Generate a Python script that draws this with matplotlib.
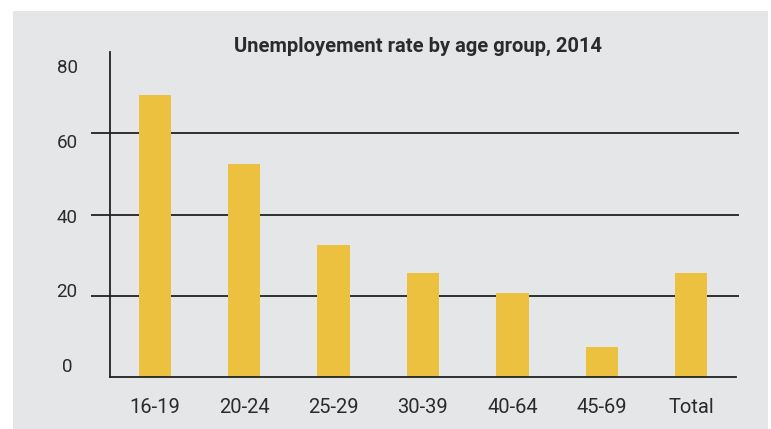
import matplotlib
matplotlib.use("Agg")
import matplotlib.pyplot as plt
from matplotlib.patches import Rectangle
import matplotlib.transforms as mtransforms

# Unemployment rate by age group, 2014
age_groups = ["16-19", "20-24", "25-29", "30-39", "40-64", "45-69", "Total"]
rates = [69.4, 52.4, 32.6, 25.6, 20.7, 7.5, 25.6]
y_ticks = [0, 20, 40, 60, 80]
grid_values = [20, 40, 60]
title = "Unemployement rate by age group, 2014"

W, H = 771, 429
BG = "#e5e6e8"
BAR = "#ebc13f"
INK = "#222222"
TXT = "#2b2b2b"

plt.rcParams["font.family"] = ["Roboto", "DejaVu Sans"]

fig = plt.figure(figsize=(W / 100, H / 100), dpi=100)
fig.patch.set_facecolor("white")

# grey panel behind the chart
fig.patches.append(Rectangle((13 / W, 0), (768 - 13) / W, 1 - 11 / H,
                             transform=fig.transFigure, facecolor=BG,
                             edgecolor="none", zorder=-5))

ax_l, ax_r, ax_t, ax_b = 110, 736, 52, 377.3
ax = fig.add_axes([ax_l / W, 1 - ax_b / H, (ax_r - ax_l) / W, (ax_b - ax_t) / H])
ax.set_facecolor("none")
ax.set_zorder(1)

x = list(range(len(age_groups)))
ax.bar(x, rates, width=0.36, color=BAR, zorder=3)
ax.set_xlim(-0.5, len(age_groups) - 0.5)
ax.set_ylim(0, 80)

# horizontal reference lines extend a little past the axes on both sides
blend = mtransforms.blended_transform_factory(ax.transAxes, ax.transData)
x0 = (91 - ax_l) / (ax_r - ax_l)
x1 = (739 - ax_l) / (ax_r - ax_l)
for v in grid_values:
    ax.plot([x0, x1], [v, v], transform=blend, color=INK, lw=1.3,
            clip_on=False, zorder=2, solid_capstyle="butt")

for side in ["top", "right"]:
    ax.spines[side].set_visible(False)
for side in ["left", "bottom"]:
    ax.spines[side].set_color(INK)
    ax.spines[side].set_linewidth(1.3)
    ax.spines[side].set_zorder(4)

ax.set_yticks([])
ax.set_xticks(x)
ax.set_xticklabels(age_groups, fontsize=14.5, color=TXT)
ax.tick_params(axis="x", length=0, pad=15)

# y labels are spread evenly down the left margin
lx = (67 - ax_l) / (ax_r - ax_l)
for v in y_ticks:
    yf = 0.031 + v / 80 * 0.92
    ax.text(lx, yf, str(v), transform=ax.transAxes, ha="center", va="center",
            fontsize=13.5, color=TXT)

fig.text(417.5 / W, 1 - 46.5 / H, title, ha="center", va="center",
         fontsize=14.5, fontweight="bold", color=TXT)

fig.savefig("out.png", dpi=100, facecolor=fig.get_facecolor())
